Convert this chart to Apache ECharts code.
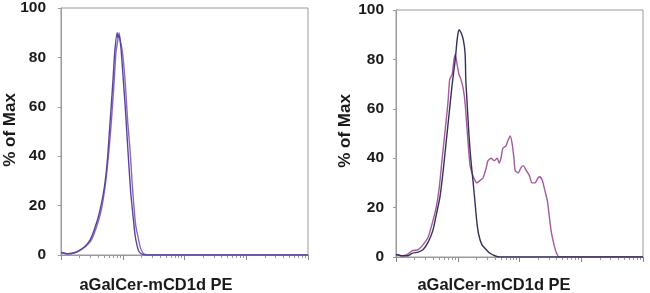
<!DOCTYPE html>
<html>
<head>
<meta charset="utf-8">
<script src="https://cdn.jsdelivr.net/npm/echarts@6/dist/echarts.min.js"></script>
<style>
html,body{margin:0;padding:0;background:#fff;}
#c{width:650px;height:293px;}
</style>
</head>
<body>
<div id="c"></div>
<script>
// x values are in decades of fluorescence (log10 units, 0..4), y in % of Max
var xTitle = 'aGalCer-mCD1d PE';
var yTitle = '% of Max';
var yTicks = [0, 20, 40, 60, 80, 100];
var majorTicks = [0, 1, 2, 3, 4];

var leftDark = [[0,1],[0.11,0.5],[0.23,1],[0.31,2],[0.39,3.5],[0.47,6],[0.55,11],[0.63,18],[0.70,27],[0.75,38],[0.79,52],[0.84,70],[0.87,82],[0.91,90],[0.92,88],[0.94,89],[0.97,84],[1.00,74],[1.04,60],[1.07,48],[1.10,36],[1.13,25],[1.17,15],[1.20,8],[1.23,4],[1.26,1.5],[1.30,0.5],[1.36,0],[4,0]];
var leftLight = [[0,1],[0.11,0.5],[0.23,1],[0.31,2],[0.40,3.5],[0.49,6],[0.57,11],[0.65,18],[0.71,27],[0.76,38],[0.81,52],[0.86,70],[0.89,82],[0.92,87],[0.94,90],[0.96,87],[0.99,83],[1.02,76],[1.05,66],[1.08,54],[1.12,42],[1.15,30],[1.18,20],[1.21,12],[1.25,7],[1.28,3.5],[1.31,1.5],[1.34,0.5],[1.41,0],[4,0]];
var rightDark = [[0,1],[0.10,0.5],[0.19,0.5],[0.26,1.5],[0.36,2],[0.44,3],[0.52,6],[0.60,11],[0.66,18],[0.71,24],[0.76,34],[0.81,46],[0.86,58],[0.91,70],[0.96,80],[0.99,88],[1.02,92],[1.05,91],[1.09,88],[1.12,82],[1.13,72],[1.15,63],[1.18,50],[1.21,40],[1.25,30],[1.28,22],[1.31,14],[1.34,9],[1.39,5],[1.46,3],[1.52,1.5],[1.60,0.5],[1.68,0],[4,0]];
var rightPink = [[0,1],[0.10,0.5],[0.18,1],[0.26,2.5],[0.36,3],[0.44,5],[0.52,8],[0.58,13],[0.65,20],[0.70,28],[0.74,38],[0.79,50],[0.84,62],[0.87,72],[0.91,74],[0.94,80],[0.96,82],[0.99,78],[1.02,74],[1.05,72],[1.09,68],[1.12,62],[1.15,52],[1.18,42],[1.20,37],[1.23,34],[1.26,32],[1.31,30],[1.36,31],[1.41,32],[1.46,36],[1.49,39],[1.54,40],[1.59,39],[1.64,40],[1.67,38],[1.70,40],[1.73,44],[1.78,45],[1.81,47],[1.85,49],[1.88,46],[1.91,40],[1.93,35],[1.98,34],[2.02,36],[2.06,37],[2.11,35],[2.16,33],[2.20,30],[2.25,30],[2.30,32],[2.33,32.5],[2.37,31],[2.41,27],[2.45,23],[2.48,17],[2.51,11],[2.54,7],[2.58,3],[2.61,1],[2.64,0],[4,0]];

var minorTicks = [];
for (var d = 0; d < 4; d++) {
  for (var k = 2; k <= 9; k++) minorTicks.push(d + Math.log10(k));
}

var FONT = '"Liberation Sans", Arial, sans-serif';
var TEXT = '#1a1a1a';
var gridColor = '#9a9a9a';

function grid(left, top) {
  return {left: left, top: top, width: 247, height: 247, show: true, borderColor: gridColor, borderWidth: 1, backgroundColor: 'transparent'};
}
function xMajor(gi) {
  return {type: 'value', gridIndex: gi, min: 0, max: 4, position: 'bottom',
    axisLine: {show: true, lineStyle: {color: gridColor, width: 1}},
    axisTick: {show: true, length: 5, customValues: majorTicks, lineStyle: {color: '#888'}},
    axisLabel: {show: false}, splitLine: {show: false}};
}
function xMinor(gi) {
  return {type: 'value', gridIndex: gi, min: 0, max: 4, position: 'bottom', offset: 0,
    axisLine: {show: false},
    axisTick: {show: true, length: 3, customValues: minorTicks, lineStyle: {color: '#999'}},
    axisLabel: {show: false}, splitLine: {show: false}};
}
function yAxis(gi, margin) {
  return {type: 'value', gridIndex: gi, min: yTicks[0], max: yTicks[yTicks.length - 1], interval: 20,
    axisLine: {show: true, lineStyle: {color: gridColor}},
    axisTick: {show: true, length: 3, lineStyle: {color: '#999'}},
    axisLabel: {fontSize: 15.5, fontWeight: 'bold', color: TEXT, fontFamily: FONT, margin: margin},
    splitLine: {show: false}};
}
function line(data, xi, yi, color) {
  return {type: 'line', xAxisIndex: xi, yAxisIndex: yi, data: data, showSymbol: false, symbol: 'none',
    smooth: 0.2, lineStyle: {color: color, width: 1.4}, silent: true, animation: false, z: 3};
}
function txt(x, y, s, size, rot) {
  return {type: 'text', x: x, y: y, rotation: rot || 0,
    style: {text: s, fontSize: size, fontWeight: 'bold', fill: TEXT, fontFamily: FONT, align: 'center', verticalAlign: 'middle'}};
}

var chart = echarts.init(document.getElementById('c'), null, {renderer: 'canvas'});
chart.setOption({
  animation: false,
  backgroundColor: '#fff',
  grid: [grid(61, 8), grid(396, 10)],
  xAxis: [xMajor(0), xMinor(0), xMajor(1), xMinor(1)],
  yAxis: [yAxis(0, 15), yAxis(1, 12)],
  series: [
    line(leftLight, 0, 0, '#8a68c6'),
    line(leftDark, 0, 0, '#5a4496'),
    line(rightPink, 2, 1, '#a35a9e'),
    line(rightDark, 2, 1, '#33305a')
  ],
  graphic: [
    txt(156, 285, xTitle, 16.5),
    txt(494, 285, xTitle, 16.5),
    txt(10, 130, yTitle, 17, Math.PI / 2),
    txt(345, 131, yTitle, 17, Math.PI / 2)
  ]
});
</script>
</body>
</html>
